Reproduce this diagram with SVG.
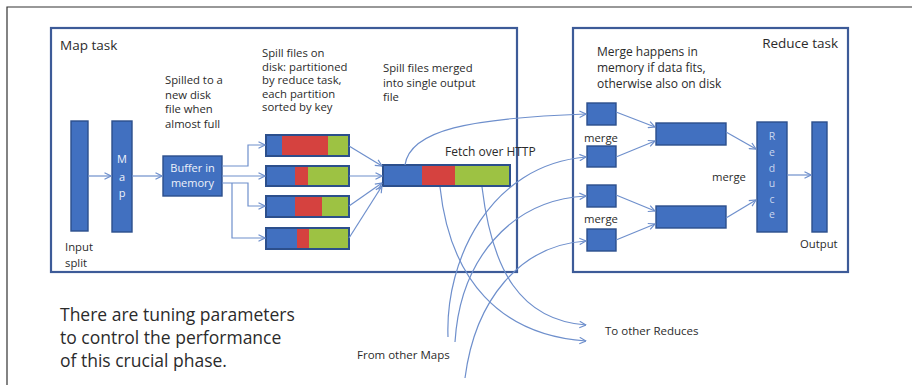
<svg xmlns="http://www.w3.org/2000/svg" width="912" height="385" viewBox="0 0 912 385">
<defs>
<style>
.t{font-family:"Open Sans","DejaVu Sans",sans-serif;fill:#2b2b2b;}
.s{font-size:11.3px;}
.m{font-size:12px;}
.w{font-family:"Open Sans","DejaVu Sans",sans-serif;fill:#eef2fa;font-size:11px;text-anchor:middle;}
.task{fill:#fff;stroke:#3d5b98;stroke-width:2.2;}
.blk{fill:#4170c0;stroke:#2c4f8c;stroke-width:1.4;}
.red{fill:#d5423f;}
.grn{fill:#9dc243;}
.blu{fill:#4170c0;}
.bar{fill:none;stroke:#2c4f8c;stroke-width:2;}
.c{fill:none;stroke:#6e8fcc;stroke-width:1.2;}
</style>
<marker id="ah" viewBox="0 0 8 8" refX="7.5" refY="4" markerWidth="8" markerHeight="8" markerUnits="userSpaceOnUse" orient="auto">
<path d="M1,0.8 L7.5,4 L1,7.2" fill="none" stroke="#6e8fcc" stroke-width="1.2"/>
</marker>
</defs>
<rect width="912" height="385" fill="#fff"/>
<g id="frame">
<path d="M7,385 V7 H912" fill="none" stroke="#333" stroke-width="1.2"/>
</g>
<g id="map-task">
<rect class="task" x="51" y="28" width="466" height="244"/>
<text class="t" x="60" y="50" font-size="13.5px">Map task</text>
</g>
<g id="reduce-task">
<rect class="task" x="573" y="28" width="275" height="244"/>
<text class="t" x="838" y="48" font-size="13.5px" text-anchor="end">Reduce task</text>
</g>
<g id="input-split">
<rect class="blk" x="71" y="121" width="17" height="110"/>
<text class="t s" x="65" y="251">Input</text>
<text class="t s" x="65" y="267">split</text>
</g>
<g id="map">
<rect class="blk" x="112" y="121" width="20" height="111"/>
<text class="w" x="122" y="163">M</text>
<text class="w" x="122" y="181">a</text>
<text class="w" x="122" y="197">p</text>
</g>
<g id="spill-note">
<text class="t s" x="165" y="84">Spilled to a</text>
<text class="t s" x="165" y="98.5">new disk</text>
<text class="t s" x="165" y="113">file when</text>
<text class="t s" x="165" y="127.5">almost full</text>
</g>
<g id="buffer">
<rect class="blk" x="163" y="156" width="59" height="40"/>
<text class="w" x="192.5" y="172" font-size="10.5px">Buffer in</text>
<text class="w" x="192.5" y="187" font-size="10.5px">memory</text>
</g>
<g id="spill-files-note">
<text class="t s" x="262" y="57">Spill files on</text>
<text class="t s" x="262" y="70.5">disk: partitioned</text>
<text class="t s" x="262" y="84">by reduce task,</text>
<text class="t s" x="262" y="97.5">each partition</text>
<text class="t s" x="262" y="111">sorted by key</text>
</g>
<g id="spill-1">
<rect class="blu" x="266" y="135" width="16" height="21"/>
<rect class="red" x="282" y="135" width="46" height="21"/>
<rect class="grn" x="328" y="135" width="21" height="21"/>
<rect class="bar" x="266" y="135" width="83" height="21"/>
</g>
<g id="spill-2">
<rect class="blu" x="266" y="166" width="29" height="20"/>
<rect class="red" x="295" y="166" width="13" height="20"/>
<rect class="grn" x="308" y="166" width="41" height="20"/>
<rect class="bar" x="266" y="166" width="83" height="20"/>
</g>
<g id="spill-3">
<rect class="blu" x="266" y="196" width="29" height="21"/>
<rect class="red" x="295" y="196" width="27" height="21"/>
<rect class="grn" x="322" y="196" width="27" height="21"/>
<rect class="bar" x="266" y="196" width="83" height="21"/>
</g>
<g id="spill-4">
<rect class="blu" x="266" y="228" width="31" height="21"/>
<rect class="red" x="297" y="228" width="12" height="21"/>
<rect class="grn" x="309" y="228" width="40" height="21"/>
<rect class="bar" x="266" y="228" width="83" height="21"/>
</g>
<g id="merged-note">
<text class="t s" x="383" y="72">Spill files merged</text>
<text class="t s" x="383" y="86.5">into single output</text>
<text class="t s" x="383" y="101">file</text>
</g>
<g id="merged-file">
<rect class="blu" x="383" y="165" width="39" height="21"/>
<rect class="red" x="422" y="165" width="33" height="21"/>
<rect class="grn" x="455" y="165" width="55" height="21"/>
<rect class="bar" x="383" y="165" width="127" height="21"/>
</g>
<g id="reduce-note">
<text class="t m" x="597" y="56">Merge happens in</text>
<text class="t m" x="597" y="72">memory if data fits,</text>
<text class="t m" x="597" y="88">otherwise also on disk</text>
</g>
<g id="seg-1"><rect class="blk" x="587" y="103" width="29" height="22"/></g>
<g id="seg-2"><rect class="blk" x="587" y="146" width="29" height="21"/></g>
<g id="seg-3"><rect class="blk" x="587" y="185" width="29" height="22"/></g>
<g id="seg-4"><rect class="blk" x="587" y="229" width="29" height="22"/></g>
<g id="merged-1"><rect class="blk" x="656" y="123" width="70" height="22"/></g>
<g id="merged-2"><rect class="blk" x="656" y="206" width="70" height="22"/></g>
<g id="reduce">
<rect class="blk" x="757" y="122" width="30" height="110"/>
<g fill="#c9d6ee" font-family="Open Sans, DejaVu Sans, sans-serif" font-size="10.5px" text-anchor="middle">
<text x="772" y="140">R</text>
<text x="772" y="156">e</text>
<text x="772" y="172">d</text>
<text x="772" y="187">u</text>
<text x="772" y="203">c</text>
<text x="772" y="218">e</text>
</g>
</g>
<g id="output">
<rect class="blk" x="812" y="122" width="15" height="110"/>
<text class="t s" x="800" y="248">Output</text>
</g>
<g id="labels">
<text class="t s" x="584" y="142">merge</text>
<text class="t s" x="584" y="223">merge</text>
<text class="t s" x="712" y="181">merge</text>
<text class="t m" x="445" y="156">Fetch over HTTP</text>
<text class="t" x="357" y="359" font-size="11.5px">From other Maps</text>
<text class="t" x="605" y="335" font-size="11.5px">To other Reduces</text>
<text class="t" x="60" y="321" font-size="17.5px">There are tuning parameters</text>
<text class="t" x="60" y="344" font-size="17.5px">to control the performance</text>
<text class="t" x="60" y="367" font-size="17.5px">of this crucial phase.</text>
</g>
<g id="connectors">
<path class="c" d="M88,176 H111" marker-end="url(#ah)"/>
<path class="c" d="M132,176 H162" marker-end="url(#ah)"/>
<path class="c" d="M222,166 H248 V145 H265" marker-end="url(#ah)"/>
<path class="c" d="M222,176 H265" marker-end="url(#ah)"/>
<path class="c" d="M222,183 H248 V206 H265" marker-end="url(#ah)"/>
<path class="c" d="M232,183 V238 H265" marker-end="url(#ah)"/>
<path class="c" d="M349,146 L382,166" marker-end="url(#ah)"/>
<path class="c" d="M349,176 L382,176" marker-end="url(#ah)"/>
<path class="c" d="M349,206 L382,183" marker-end="url(#ah)"/>
<path class="c" d="M349,238 L382,186" marker-end="url(#ah)"/>
<path class="c" d="M405,165 C410,130 470,118 586,114" marker-end="url(#ah)"/>
<path class="c" d="M448,337 C445,260 490,165 586,157" marker-end="url(#ah)"/>
<path class="c" d="M455,342 C460,260 510,200 586,196" marker-end="url(#ah)"/>
<path class="c" d="M465,378 C475,300 520,245 586,241" marker-end="url(#ah)"/>
<path class="c" d="M440,187 C450,280 500,335 586,341" marker-end="url(#ah)"/>
<path class="c" d="M482,187 C492,270 520,320 586,325" marker-end="url(#ah)"/>
<path class="c" d="M616,112 L655,127" marker-end="url(#ah)"/>
<path class="c" d="M616,157 L655,141" marker-end="url(#ah)"/>
<path class="c" d="M616,195 L655,211" marker-end="url(#ah)"/>
<path class="c" d="M616,240 L655,224" marker-end="url(#ah)"/>
<path class="c" d="M726,132 L756,149" marker-end="url(#ah)"/>
<path class="c" d="M726,218 L756,200" marker-end="url(#ah)"/>
<path class="c" d="M787,175 H811" marker-end="url(#ah)"/>
</g>
</svg>
